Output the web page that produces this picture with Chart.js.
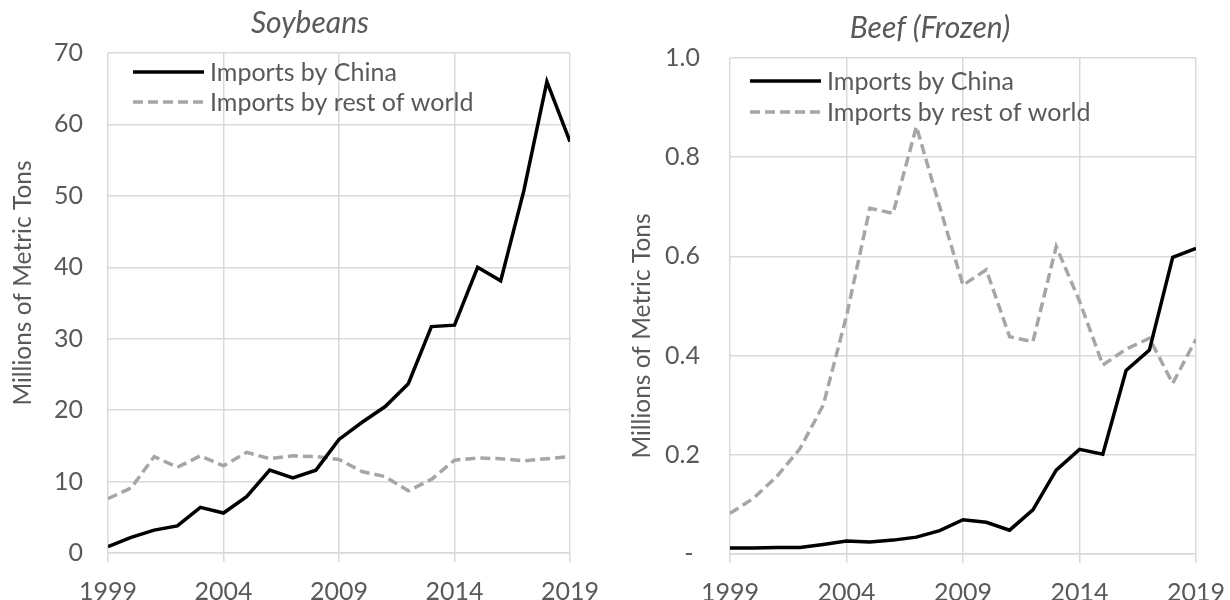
<!DOCTYPE html>
<html>
<head>
<meta charset="utf-8">
<script src="https://cdn.jsdelivr.net/npm/chart.js@4.4.1/dist/chart.umd.min.js"></script>
<style>
html,body{margin:0;padding:0;background:#fff;}
#wrap{position:relative;width:1230px;height:600px;overflow:hidden;}
.box{position:absolute;top:0;width:615px;height:600px;}
canvas{display:block;}
</style>
</head>
<body>
<div id="wrap">
  <div class="box" style="left:0px"><canvas id="c1" width="615" height="600"></canvas></div>
  <div class="box" style="left:615px"><canvas id="c2" width="615" height="600"></canvas></div>
</div>
<script>
const years = [1999,2000,2001,2002,2003,2004,2005,2006,2007,2008,2009,2010,2011,2012,2013,2014,2015,2016,2017,2018,2019];
const soyChina = [0.9,2.2,3.2,3.8,6.4,5.6,7.9,11.6,10.5,11.6,15.9,18.3,20.5,23.7,31.7,31.9,40.0,38.1,50.7,66.0,57.6];
const soyRest  = [7.6,9.1,13.5,12.0,13.6,12.2,14.1,13.2,13.6,13.5,13.1,11.4,10.7,8.7,10.3,13.0,13.3,13.2,12.9,13.2,13.5];
const beefChina = [0.012,0.012,0.013,0.013,0.019,0.026,0.024,0.028,0.034,0.047,0.069,0.064,0.048,0.089,0.169,0.211,0.201,0.370,0.411,0.598,0.616];
const beefRest  = [0.082,0.112,0.156,0.212,0.300,0.480,0.697,0.687,0.862,0.700,0.542,0.573,0.438,0.428,0.620,0.510,0.381,0.413,0.435,0.344,0.433];
const seriesLabels = ["Imports by China", "Imports by rest of world"];
const chartTitles = ["Soybeans", "Beef (Frozen)"];
const yAxisTitle = "Millions of Metric Tons";
const xTickValues = [1999, 2004, 2009, 2014, 2019];
const soyYTicks = ["0","10","20","30","40","50","60","70"];
const beefYTicks = ["- ","0.2","0.4","0.6","0.8","1.0"];

const FONT = "Lato, 'Open Sans', sans-serif";
const TEXT = "#595959";
const GRID = "#d9d9d9";

const decorPlugin = {
  id: 'decor',
  afterDraw(chart, args, o) {
    const ctx = chart.ctx;
    ctx.save();
    ctx.fillStyle = TEXT;
    // title
    ctx.font = "italic 30px " + FONT;
    ctx.textAlign = 'center';
    ctx.textBaseline = 'middle';
    ctx.fillText(o.title, o.titleX, o.titleY);
    // axis title
    ctx.save();
    ctx.translate(o.axisX, o.axisY);
    ctx.rotate(-Math.PI/2);
    ctx.font = "24.5px " + FONT;
    ctx.fillText(yAxisTitle, 0, 0);
    ctx.restore();
    // legend
    ctx.font = "25px " + FONT;
    ctx.textAlign = 'left';
    chart.data.datasets.forEach((ds, i) => {
      const y = o.legY[i];
      ctx.save();
      ctx.strokeStyle = ds.borderColor;
      ctx.lineWidth = ds.borderWidth;
      ctx.setLineDash(ds.borderDash || []);
      ctx.lineCap = 'butt';
      ctx.beginPath();
      ctx.moveTo(o.legX, y);
      ctx.lineTo(o.legX + 71, y);
      ctx.stroke();
      ctx.restore();
      ctx.fillStyle = TEXT;
      ctx.fillText(ds.label, o.legX + 77, y + 1);
    });
    ctx.restore();
  }
};

function makeChart(id, china, rest, yMax, yStep, yTickLabels, geo) {
  return new Chart(document.getElementById(id), {
    type: 'line',
    data: {
      datasets: [
        { label: seriesLabels[0], data: years.map((y,i)=>({x:y, y:china[i]})),
          borderColor: '#000000', borderWidth: 3.5, pointRadius: 0, tension: 0, fill: false },
        { label: seriesLabels[1], data: years.map((y,i)=>({x:y, y:rest[i]})),
          borderColor: '#a6a6a6', borderWidth: 3.5, borderDash: [10,5], pointRadius: 0, tension: 0, fill: false }
      ]
    },
    options: {
      responsive: false,
      animation: false,
      layout: { padding: { left: 0, right: geo.padRight, top: geo.padTop, bottom: 0 } },
      plugins: {
        legend: { display: false },
        tooltip: { enabled: false },
        title: { display: false },
        decor: geo.decor
      },
      scales: {
        x: {
          type: 'linear', min: 1999, max: 2019,
          afterBuildTicks: (s) => { s.ticks = xTickValues.map(v => ({value: v})); },
          ticks: { color: TEXT, font: { family: FONT, size: 25 }, padding: 15, maxRotation: 0,
                   callback: (v) => String(v) },
          grid: { color: GRID, lineWidth: 1.5, drawTicks: true, tickLength: 9, tickColor: GRID },
          border: { color: GRID, width: 1.5 },
          afterFit: (s) => { s.height = geo.xHeight; s.paddingLeft = 0; s.paddingRight = 0; }
        },
        y: {
          min: 0, max: yMax,
          ticks: { stepSize: yStep, color: TEXT, font: { family: FONT, size: 25 }, padding: geo.yPad,
                   callback: (v, i) => yTickLabels[i] },
          grid: { color: GRID, lineWidth: 1.5, drawTicks: false },
          border: { display: false },
          afterFit: (s) => { s.width = geo.yWidth; s.paddingTop = 0; s.paddingBottom = 0; }
        }
      }
    },
    plugins: [decorPlugin]
  });
}

makeChart('c1', soyChina, soyRest, 70, 10, soyYTicks, {
  padRight: 45, padTop: 53, xHeight: 47, yWidth: 108, yPad: 25,
  decor: { title: chartTitles[0], titleX: 310, titleY: 23, axisX: 23, axisY: 283, legX: 133, legY: [72, 102] }
});
makeChart('c2', beefChina, beefRest, 1.0, 0.2, beefYTicks, {
  padRight: 34, padTop: 58, xHeight: 46, yWidth: 115, yPad: 30,
  decor: { title: chartTitles[1], titleX: 315, titleY: 28, axisX: 27, axisY: 336, legX: 135, legY: [81, 112] }
});
</script>
</body>
</html>
